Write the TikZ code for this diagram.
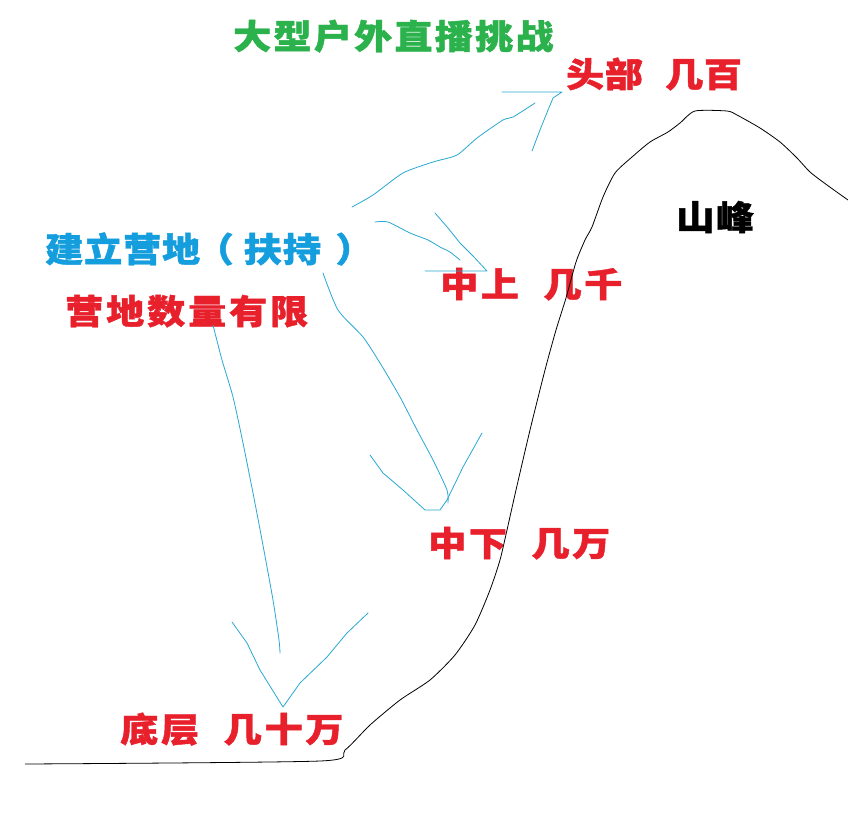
\documentclass[tikz,border=0pt]{standalone}
\usepackage{fontspec}
\newfontfamily\cjk{Noto Sans CJK SC}[BoldFeatures={FakeBold=1.2}]
\definecolor{tgreen}{RGB}{43,178,76}
\definecolor{tred}{RGB}{232,32,44}
\definecolor{tblue}{RGB}{20,158,222}
\definecolor{lblue}{RGB}{40,168,210}
\makeatletter
\newcommand\spr[2]{\begingroup\let\spr@f\@empty\@tfor\spr@c:=#2\do{\ifx\spr@f\@empty\def\spr@f{x}\else\kern#1\fi\spr@c}\endgroup}
\makeatother
\newcommand\wtxt[1]{\scalebox{1.12}[1]{#1}}
\tikzset{
  lbl/.style={inner sep=0pt, anchor=base west, font=\cjk\bfseries\fontsize{34pt}{38pt}\selectfont},
  stroke/.style={draw=lblue, line width=0.8pt, line join=round, line cap=round},
  mount/.style={draw=black, line width=0.8pt, line join=round}
}
\begin{document}
\begin{tikzpicture}[x=1pt,y=-1pt]
\useasboundingbox[fill=white] (0,0) rectangle (848,814);
% texts
\node[lbl,text=tgreen] (title) at (233,49) {\wtxt{\spr{2pt}{大型户外直播挑战}}};
\node[lbl,text=tred] (top) at (566,87) {\wtxt{\spr{0.5pt}{头部}\hspace{20pt}\spr{0.5pt}{几百}}};
\node[lbl,text=black] (peak) at (676,230) {\wtxt{\spr{1.5pt}{山峰}}};
\node[lbl,text=tblue] (camp) at (45,262) {\wtxt{\spr{0.8pt}{建立营地}\kern-4pt（\kern9pt\spr{0.8pt}{扶持}\kern13pt）}};
\node[lbl,text=tred] (upper) at (440,297) {\wtxt{\spr{2.3pt}{中上}\hspace{22pt}\spr{2.3pt}{几千}}};
\node[lbl,text=tred] (limit) at (65,324) {\wtxt{\spr{2.6pt}{营地数量有限}}};
\node[lbl,text=tred] (lower) at (428,556) {\wtxt{\spr{2.3pt}{中下}\hspace{22pt}\spr{2.3pt}{几万}}};
\node[lbl,text=tred] (bottom) at (120,742) {\wtxt{\spr{2.5pt}{底层}\hspace{22pt}\spr{2.5pt}{几十万}}};
% mountain
\draw[mount] plot[smooth, tension=0.4] coordinates {(25,764) (320,761) (345,750) (370,725) (400,700) (430,680) (455,655) (475,625) (490,590) (500,560) (507,530) (516,490) (530,430) (545,370) (556,330) (566,298) (576,262) (585,240) (592,227) (603,197) (615,173) (632,157) (650,142) (668,132) (680,123) (695,111) (727,111) (737,115) (760,128) (780,142) (797,158) (810,172) (827,185) (848,200)};
% arrow to top
\draw[stroke] plot[smooth, tension=0.4] coordinates {(352,207) (373,195) (403,173) (433,162) (457,155) (477,138) (503,120) (513,117) (535,103)};
\draw[stroke] (502,92) -- (562,92) -- (553,98) -- (546,115) -- (540,130) -- (532,151);
% arrow to upper
\draw[stroke] plot[smooth, tension=0.4] coordinates {(375,222) (388,222) (410,233) (428,240) (440,247) (450,252) (460,260)};
\draw[stroke] (435,213) -- (448,228) -- (460,243) -- (473,256) -- (487,271) -- (425,271);
% arrow to lower
\draw[stroke] plot[smooth, tension=0.4] coordinates {(323,273) (338,310) (363,337) (380,363) (400,397) (417,430) (433,460) (447,490) (448,503)};
\draw[stroke] (370,455) -- (383,473) -- (403,490) -- (425,510) -- (440,510) -- (447,500) -- (463,467) -- (482,433);
% arrow to bottom
\draw[stroke] plot[smooth, tension=0.4] coordinates {(213,325) (222,360) (233,397) (243,443) (253,493) (262,540) (273,600) (279,640) (280,653)};
\draw[stroke] (232,622) -- (247,643) -- (260,670) -- (283,707) -- (300,683) -- (327,657) -- (347,633) -- (368,613);
\end{tikzpicture}
\end{document}
